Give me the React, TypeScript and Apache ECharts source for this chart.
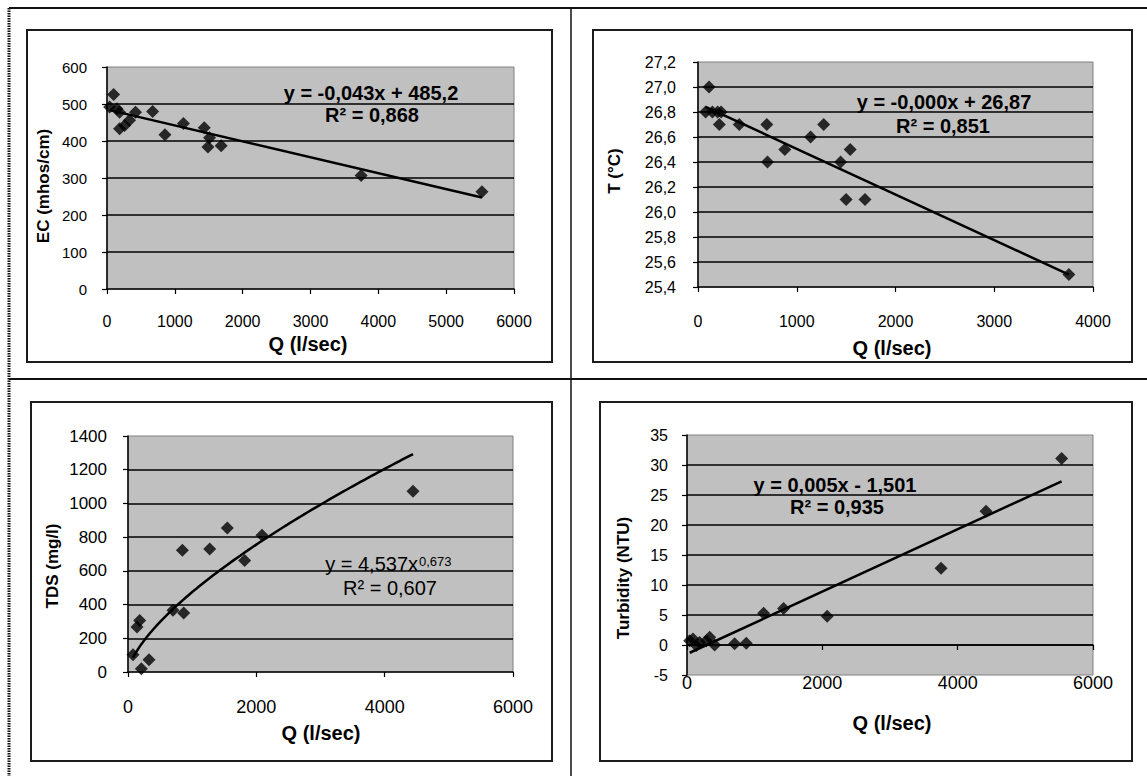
import React, { useEffect, useRef } from "react";
import * as echarts from "echarts";

const FONT = '"Liberation Sans", Arial, sans-serif';

// Panel 1: EC vs Q
const EC_Q = [39, 98, 146, 185, 185, 259, 332, 420, 673, 854, 1127, 1434, 1488, 1512, 1683, 3746, 5527];
const EC_VAL = [492, 526, 487, 478, 433, 442, 456, 478, 480, 417, 447, 436, 384, 409, 387, 307, 263];
const EC_SLOPE = -0.043;
const EC_INTERCEPT = 485.2;
const EC_EQ = ["y = -0,043x + 485,2", "R² = 0,868"];

// Panel 2: T vs Q
const T_Q = [77, 112, 146, 199, 216, 234, 418, 697, 704, 879, 1140, 1273, 1444, 1500, 1541, 1691, 3756];
const T_VAL = [26.8, 27.0, 26.8, 26.8, 26.7, 26.8, 26.7, 26.7, 26.4, 26.5, 26.6, 26.7, 26.4, 26.1, 26.5, 26.1, 25.5];
const T_SLOPE = -0.000365;
const T_INTERCEPT = 26.87;
const T_EQ = ["y = -0,000x + 26,87", "R² = 0,851"];

// Panel 3: TDS vs Q (power fit)
const TDS_Q = [78, 140, 182, 208, 327, 701, 847, 868, 1273, 1548, 1818, 2088, 4442];
const TDS_VAL = [103, 267, 306, 20, 73, 366, 722, 350, 730, 854, 662, 811, 1072];
const TDS_COEF = 4.537;
const TDS_EXP = 0.673;
const TDS_EQ = ["y = 4,537x", "0,673", "R² = 0,607"];

// Panel 4: Turbidity vs Q
const TU_Q = [40, 89, 138, 187, 285, 335, 408, 704, 876, 1132, 1427, 2072, 3755, 4419, 5536];
const TU_VAL = [0.7, 1.0, -0.1, 0.4, 0.7, 1.3, 0.0, 0.2, 0.3, 5.3, 6.1, 4.8, 12.8, 22.3, 31.1];
const TU_SLOPE = 0.0052;
const TU_INTERCEPT = -1.501;
const TU_EQ = ["y = 0,005x - 1,501", "R² = 0,935"];

const X_TITLE = "Q (l/sec)";
const Y_TITLES = ["EC (mhos/cm)", "T (°C)", "TDS (mg/l)", "Turbidity (NTU)"];

const zip = (xs: number[], ys: number[]) => xs.map((x, i) => [x, ys[i]]);
const linTrend = (xs: number[], a: number, b: number) => {
  const x0 = Math.min(...xs);
  const x1 = Math.max(...xs);
  return [[x0, a * x0 + b], [x1, a * x1 + b]];
};
const powTrend = (xs: number[], c: number, e: number) => {
  const x0 = Math.min(...xs);
  const x1 = Math.max(...xs);
  const pts: number[][] = [];
  const n = 80;
  for (let i = 0; i <= n; i++) {
    const x = x0 + ((x1 - x0) * i) / n;
    pts.push([x, c * Math.pow(x, e)]);
  }
  return pts;
};

function xAxisCfg(gi: number, max: number, interval: number, fontSize: number, margin: number) {
  return {
    type: "value",
    gridIndex: gi,
    min: 0,
    max,
    interval,
    axisLine: { show: true, onZero: true, lineStyle: { color: "#000", width: 1.5 } },
    axisTick: { show: true, length: 5, lineStyle: { color: "#000", width: 1.2 } },
    axisLabel: { color: "#000", fontSize, fontFamily: FONT, margin, formatter: (v: number) => String(v) },
    splitLine: { show: false },
  };
}

function yAxisCfg(gi: number, min: number, max: number, interval: number, fontSize: number, margin: number, fmt?: (v: number) => string) {
  return {
    type: "value",
    gridIndex: gi,
    min,
    max,
    interval,
    axisLine: { show: true, onZero: false, lineStyle: { color: "#000", width: 1.5 } },
    axisTick: { show: true, length: 5, lineStyle: { color: "#000", width: 1.2 } },
    axisLabel: { color: "#000", fontSize, fontFamily: FONT, margin, formatter: fmt || ((v: number) => String(v)) },
    splitLine: { show: true, showMinLine: false, showMaxLine: false, lineStyle: { color: "#000", width: 1.6 } },
  };
}

const scatter = (i: number, data: number[][]) => ({
  type: "scatter",
  xAxisIndex: i,
  yAxisIndex: i,
  symbol: "diamond",
  symbolSize: 13,
  itemStyle: { color: "#000" },
  data,
  z: 4,
});
const trend = (i: number, data: number[][]) => ({
  type: "line",
  xAxisIndex: i,
  yAxisIndex: i,
  showSymbol: false,
  symbol: "none",
  lineStyle: { color: "#000", width: 2.5 },
  data,
  z: 3,
});

const txt = (x: number, y: number, text: string, font: string, rot = 0, align = "center") => ({
  type: "text",
  x,
  y,
  rotation: rot,
  style: { text, font, fill: "#000", align, verticalAlign: "middle" },
  z: 10,
});

const box = (x: number, y: number, w: number, h: number) => ({
  type: "rect",
  shape: { x, y, width: w, height: h },
  style: { fill: "none", stroke: "#1a1a1a", lineWidth: 2, shadowColor: "rgba(0,0,0,0.35)", shadowBlur: 1 },
  z: 1,
});

const line = (x1: number, y1: number, x2: number, y2: number, w: number, dash?: number[]) => ({
  type: "line",
  shape: { x1, y1, x2, y2 },
  style: { stroke: "#111", lineWidth: w, lineDash: dash },
  z: 1,
});

export default function App() {
  const ref = useRef<HTMLDivElement>(null);
  useEffect(() => {
    if (!ref.current) return;
    const chart = echarts.init(ref.current, undefined, { renderer: "svg" });
    const gridBase = { show: true, backgroundColor: "#c0c0c0", borderColor: "#808080", borderWidth: 1, containLabel: false };
    const titleFont = `bold 20px ${FONT}`;
    const yTitleFont = `bold 17px ${FONT}`;
    const eqBold = `bold 20px ${FONT}`;
    const eqReg = `20px ${FONT}`;
    const commaFmt = (v: number) => v.toFixed(1).replace(".", ",");
    const option: any = {
      animation: false,
      backgroundColor: "#fff",
      grid: [
        { ...gridBase, left: 107, top: 67, width: 407, height: 222 },
        { ...gridBase, left: 698, top: 62, width: 395, height: 225 },
        { ...gridBase, left: 128, top: 436, width: 385, height: 236 },
        { ...gridBase, left: 687, top: 435, width: 406, height: 240 },
      ],
      xAxis: [
        xAxisCfg(0, 6000, 1000, 16, 24),
        xAxisCfg(1, 4000, 1000, 16, 26),
        xAxisCfg(2, 6000, 2000, 18, 26),
        xAxisCfg(3, 6000, 2000, 18, -1),
      ],
      yAxis: [
        yAxisCfg(0, 0, 600, 100, 15, 20),
        yAxisCfg(1, 25.4, 27.2, 0.2, 16, 22, commaFmt),
        yAxisCfg(2, 0, 1400, 200, 17, 21),
        yAxisCfg(3, -5, 35, 5, 16, 19),
      ],
      series: [
        trend(0, linTrend(EC_Q, EC_SLOPE, EC_INTERCEPT)),
        scatter(0, zip(EC_Q, EC_VAL)),
        trend(1, linTrend(T_Q, T_SLOPE, T_INTERCEPT)),
        scatter(1, zip(T_Q, T_VAL)),
        trend(2, powTrend(TDS_Q, TDS_COEF, TDS_EXP)),
        scatter(2, zip(TDS_Q, TDS_VAL)),
        trend(3, linTrend(TU_Q, TU_SLOPE, TU_INTERCEPT)),
        scatter(3, zip(TU_Q, TU_VAL)),
      ],
      graphic: [
        // outer frame
        line(9, 8, 1147, 8, 2),
        line(9, 8, 9, 776, 3, [1.5, 1]),
        line(571, 8, 571, 776, 1.5),
        line(9, 379, 1147, 379, 2),
        // chart boxes
        box(27, 30, 525, 332),
        box(593, 30, 539, 332),
        box(31, 402, 521, 359),
        box(600, 402, 532, 359),
        // x titles
        txt(308, 344, X_TITLE, titleFont),
        txt(892, 348, X_TITLE, titleFont),
        txt(321, 733, X_TITLE, titleFont),
        txt(892, 723, X_TITLE, titleFont),
        // y titles
        txt(43, 186, Y_TITLES[0], yTitleFont, Math.PI / 2),
        txt(614, 171, Y_TITLES[1], yTitleFont, Math.PI / 2),
        txt(52, 566, Y_TITLES[2], yTitleFont, Math.PI / 2),
        txt(623, 578, Y_TITLES[3], yTitleFont, Math.PI / 2),
        // equations
        txt(371, 93, EC_EQ[0], eqBold),
        txt(372, 115, EC_EQ[1], eqBold),
        txt(944, 102, T_EQ[0], eqBold),
        txt(943, 126, T_EQ[1], eqBold),
        txt(418, 564, TDS_EQ[0], eqReg, 0, "right"),
        txt(419, 561, TDS_EQ[1], `13px ${FONT}`, 0, "left"),
        txt(390, 588, TDS_EQ[2], eqReg),
        txt(835, 485, TU_EQ[0], eqBold),
        txt(837, 507, TU_EQ[1], eqBold),
      ],
    };
    chart.setOption(option);
    return () => chart.dispose();
  }, []);
  return (
    <div
      ref={ref}
      style={{ position: "fixed", left: 0, top: 0, width: 1147, height: 776, background: "#fff" }}
    />
  );
}
